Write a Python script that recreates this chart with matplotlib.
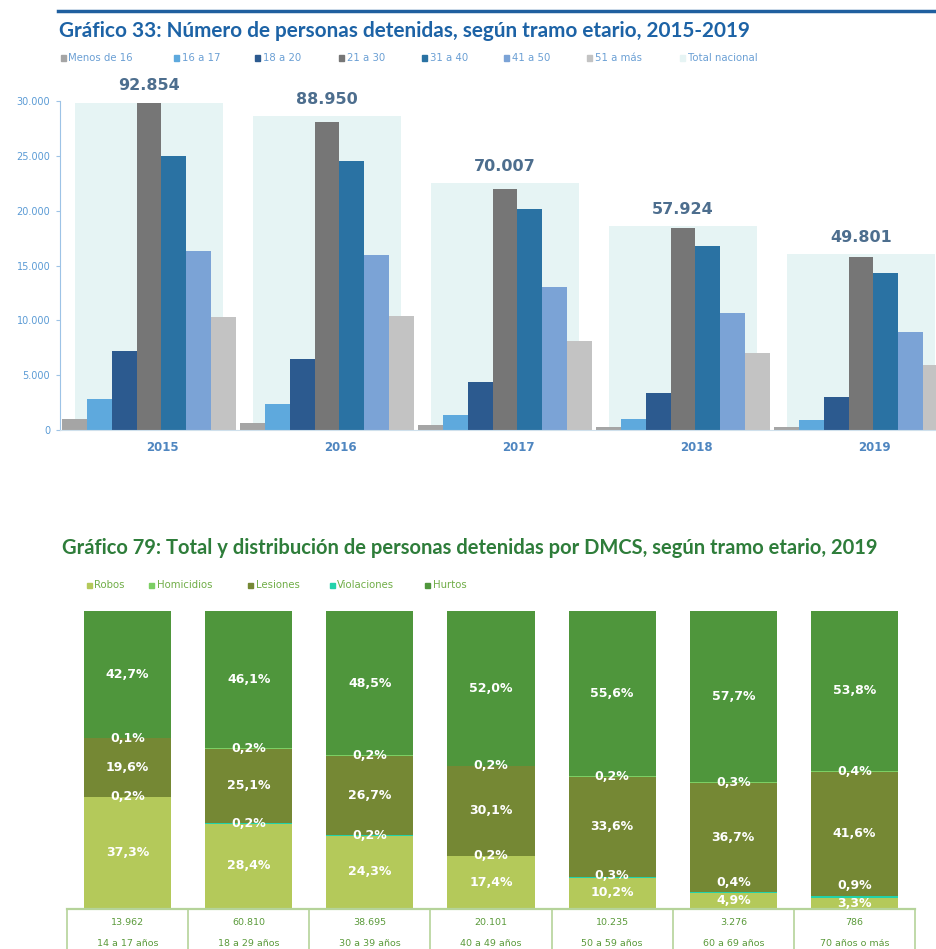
import numpy as np
import matplotlib
matplotlib.use('Agg')
import matplotlib.pyplot as plt
import matplotlib.transforms as mtransforms
from matplotlib.patches import Rectangle
from matplotlib.lines import Line2D
from matplotlib.ticker import FuncFormatter

# ---- Gráfico 33 data ----
years = ['2015', '2016', '2017', '2018', '2019']
age_groups = ['Menos de 16', '16 a 17', '18 a 20', '21 a 30', '31 a 40', '41 a 50', '51 a más']
menos_16 = [980, 670, 460, 300, 300]
de_16_17 = [2800, 2340, 1400, 1000, 910]
de_18_20 = [7230, 6440, 4380, 3340, 2980]
de_21_30 = [29850, 28110, 21950, 18390, 15750]
de_31_40 = [25010, 24530, 20150, 16780, 14350]
de_41_50 = [16350, 15960, 13070, 10640, 8965]
de_51_mas = [10280, 10400, 8150, 6990, 5930]
total_nacional = [92854, 88950, 70007, 57924, 49801]

# ---- Gráfico 79 data ----
tramos = ['14 a 17 años', '18 a 29 años', '30 a 39 años', '40 a 49 años',
          '50 a 59 años', '60 a 69 años', '70 años o más']
tramo_totals = [13962, 60810, 38695, 20101, 10235, 3276, 786]
robos = [37.3, 28.4, 24.3, 17.4, 10.2, 4.9, 3.3]
violaciones = [0.2, 0.2, 0.2, 0.2, 0.3, 0.4, 0.9]
lesiones = [19.6, 25.1, 26.7, 30.1, 33.6, 36.7, 41.6]
homicidios = [0.1, 0.2, 0.2, 0.2, 0.2, 0.3, 0.4]
hurtos = [42.7, 46.1, 48.5, 52.0, 55.6, 57.7, 53.8]

W, H = 937, 949
fig = plt.figure(figsize=(W / 100, H / 100), dpi=100)


def rect(x0, y_top, x1, y_bottom):
    # pixel box -> figure fraction
    return [x0 / W, (H - y_bottom) / H, (x1 - x0) / W, (y_bottom - y_top) / H]


def fmt_miles(v):
    return f"{int(round(v)):,}".replace(',', '.')


def fit_width(txt, target_px):
    r = fig.canvas.get_renderer()
    w = txt.get_window_extent(r).width
    txt.set_fontsize(txt.get_fontsize() * target_px / w)


title_family = ['Lato', 'DejaVu Sans']

# ================= Top chart =================
fig.add_artist(Line2D([58 / W, 1.0], [1 - 10.5 / H, 1 - 10.5 / H], color='#1f5f9f', lw=2.5))
t1 = fig.text(59 / W, 1 - 31 / H, 'Gráfico 33: Número de personas detenidas, según tramo etario, 2015-2019',
              fontsize=14, fontweight='bold', color='#1d63a6', family=title_family, va='center')

top_colors = ['#a5a5a5', '#5ea9dd', '#2c5a8f', '#767676', '#2a72a3', '#7ba3d6', '#c3c3c3']
bg_color = '#e6f4f4'

leg_x = [63, 177, 258, 342, 425, 507, 590, 683]
for lbl, col, xp in zip(age_groups + ['Total nacional'], top_colors + [bg_color], leg_x):
    fig.add_artist(Rectangle((xp / W - 2.5 / W, 1 - 60.5 / H), 5 / W, 5 / H, color=col))
    fig.text((xp + 5) / W, 1 - 58 / H, lbl, fontsize=7.3, color='#6a9fd4', va='center')

box = rect(60, 101, 950, 430)
ax_bg = fig.add_axes(box)
ax = fig.add_axes(box)
x = np.arange(len(years))

ax_bg.bar(x, total_nacional, width=0.826, color=bg_color)
ax_bg.set_ylim(0, 93300)
ax_bg.set_xlim(-0.5, 4.5)
ax_bg.axis('off')
for xi, t in zip(x, total_nacional):
    ax_bg.annotate(fmt_miles(t), (xi, t), xytext=(0, 12), textcoords='offset points',
                   ha='center', va='center', fontsize=11.5, fontweight='bold', color='#4d6e8e')

series = [menos_16, de_16_17, de_18_20, de_21_30, de_31_40, de_41_50, de_51_mas]
bw = 0.139
for j, (vals, col) in enumerate(zip(series, top_colors)):
    ax.bar(x + (j - 3) * bw, vals, width=bw, color=col)

ax.patch.set_visible(False)
ax.set_xlim(-0.5, 4.5)
ax.set_ylim(0, 30000)
ax.set_yticks(np.arange(0, 30001, 5000))
ax.yaxis.set_major_formatter(FuncFormatter(lambda v, p: fmt_miles(v)))
ax.tick_params(axis='y', labelsize=7, labelcolor='#5b9bd5', color='#9dc3e6', length=3, pad=4)
ax.set_xticks(x + 0.075)
ax.set_xticklabels(years)
ax.tick_params(axis='x', length=0, labelsize=8.5, labelcolor='#4f86c0', pad=8)
for lab in ax.get_xticklabels():
    lab.set_fontweight('bold')
for s in ['top', 'right']:
    ax.spines[s].set_visible(False)
ax.spines['left'].set_color('#9dc3e6')
ax.spines['bottom'].set_color('#cfe0ec')

# ================= Bottom chart =================
t2 = fig.text(62 / W, 1 - 548 / H,
              'Gráfico 79: Total y distribución de personas detenidas por DMCS, según tramo etario, 2019',
              fontsize=14, fontweight='bold', color='#2e7d3a', family=title_family, va='center')

seg_names = ['Robos', 'Homicidios', 'Lesiones', 'Violaciones', 'Hurtos']
seg_colors = {'Robos': '#b4c95a', 'Homicidios': '#7ccf64', 'Lesiones': '#758834',
              'Violaciones': '#22d3aa', 'Hurtos': '#4f963c'}
leg2_x = [89, 152, 251, 332, 428]
for lbl, xp in zip(seg_names, leg2_x):
    fig.add_artist(Rectangle((xp / W - 2.5 / W, 1 - 587.5 / H), 5 / W, 5 / H, color=seg_colors[lbl]))
    fig.text((xp + 5) / W, 1 - 585 / H, lbl, fontsize=7.3, color='#70ad47', va='center')

ax2 = fig.add_axes(rect(67, 611, 915, 908))
x2 = np.arange(len(tramos))
# stacking order as drawn (bottom to top)
stack = [('Robos', robos), ('Violaciones', violaciones), ('Lesiones', lesiones),
         ('Homicidios', homicidios), ('Hurtos', hurtos)]
sums = np.sum([v for _, v in stack], axis=0)
bottom = np.zeros(len(tramos))
label_pos = [[] for _ in tramos]
for name, vals in stack:
    vals = np.array(vals)
    h = vals / sums * 100
    ax2.bar(x2, h, bottom=bottom, width=0.72, color=seg_colors[name])
    for i in range(len(tramos)):
        label_pos[i].append((bottom[i] + h[i] / 2, vals[i]))
    bottom += h

gap = 6.0
for i, items in enumerate(label_pos):
    prev = -99
    for yc, v in items:
        y = yc if yc - prev >= gap else prev + gap
        ax2.text(x2[i], y, f"{v:.1f}".replace('.', ',') + '%', ha='center', va='center',
                 fontsize=9, fontweight='bold', color='white', clip_on=False)
        prev = y

ax2.set_xlim(-0.5, 6.5)
ax2.set_ylim(0, 100)
ax2.axis('off')

tr = mtransforms.blended_transform_factory(ax2.transData, ax2.transAxes)
line_col = '#b5d39a'
ax2.plot([-0.5, 6.5], [-0.004, -0.004], transform=tr, color=line_col, lw=1.6, clip_on=False)
for k in range(len(tramos) + 1):
    ax2.plot([k - 0.5, k - 0.5], [-0.004, -0.2], transform=tr, color=line_col, lw=1.2, clip_on=False)
for i in range(len(tramos)):
    ax2.text(x2[i], -0.05, fmt_miles(tramo_totals[i]), transform=tr, ha='center', va='center',
             fontsize=6.8, color='#5a9a3a')
    ax2.text(x2[i], -0.118, tramos[i], transform=tr, ha='center', va='center',
             fontsize=6.8, color='#5a9a3a')

fig.canvas.draw()
fit_width(t1, 696)
fit_width(t2, 818)

fig.savefig('out.png', dpi=100)
